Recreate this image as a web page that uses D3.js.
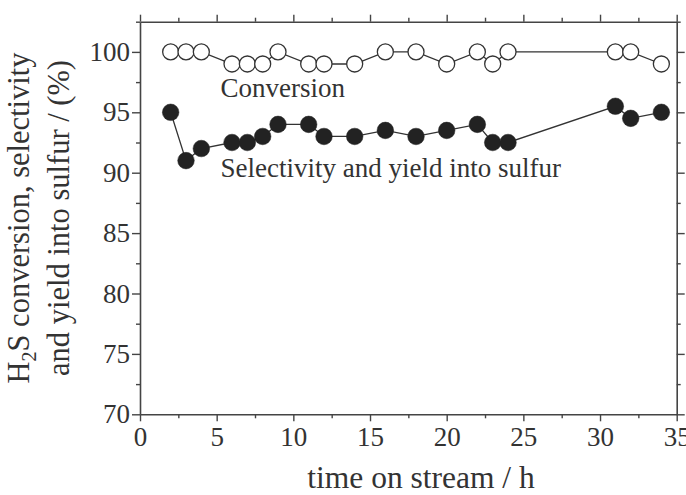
<!DOCTYPE html>
<html>
<head>
<meta charset="utf-8">
<script src="https://cdn.jsdelivr.net/npm/d3@7"></script>
<style>
  html, body { margin: 0; padding: 0; background: #fff; }
  svg { display: block; }
  text { font-family: "Liberation Serif", "Times New Roman", serif; fill: #333; }
</style>
</head>
<body>
<svg id="chart" width="686" height="495"></svg>
<script>
// ---- data ----
const hours = [2, 3, 4, 6, 7, 8, 9, 11, 12, 14, 16, 18, 20, 22, 23, 24, 31, 32, 34];
const conversion = [100, 100, 100, 99, 99, 99, 100, 99, 99, 99, 100, 100, 99, 100, 99, 100, 100, 100, 99];
const selectivity = [95, 91, 92, 92.5, 92.5, 93, 94, 94, 93, 93, 93.5, 93, 93.5, 94, 92.5, 92.5, 95.5, 94.5, 95];
const xTicks = [0, 5, 10, 15, 20, 25, 30, 35];
const yTicks = [70, 75, 80, 85, 90, 95, 100];
const xMinor = [2.5, 7.5, 12.5, 17.5, 22.5, 27.5, 32.5];
const yMinor = [72.5, 77.5, 82.5, 87.5, 92.5, 97.5, 102.5];
const labelConversion = "Conversion";
const labelSelectivity = "Selectivity and yield into sulfur";
const xTitle = "time on stream / h";

// ---- layout ----
const svg = d3.select("#chart");
const mLeft = 140, mRight = 676.7, mTop = 21.7, mBottom = 414.3;
const x = d3.scaleLinear().domain([0, 35]).range([mLeft, mRight]);
const y = d3.scaleLinear().domain([70, 102.5]).range([mBottom, mTop]);
const axisColor = "#444";
const fontSize = 27;

function styleAxis(g, labels) {
  g.attr("font-family", '"Liberation Serif", serif');
  g.select(".domain").attr("stroke", axisColor).attr("stroke-width", 1.6);
  g.selectAll(".tick line").attr("stroke", axisColor).attr("stroke-width", 1.4);
  g.selectAll(".tick text")
    .attr("font-size", fontSize)
    .attr("font-family", '"Liberation Serif", serif')
    .attr("fill", "#333");
  if (!labels) g.selectAll(".tick text").remove();
}

// major axes
const gB = svg.append("g").attr("transform", `translate(0,${mBottom})`)
  .call(d3.axisBottom(x).tickValues(xTicks).tickSize(7).tickPadding(6).tickSizeOuter(0).tickFormat(d3.format("d")));
styleAxis(gB, true);
gB.selectAll(".tick text").attr("dy", "0.71em");

const gL = svg.append("g").attr("transform", `translate(${mLeft},0)`)
  .call(d3.axisLeft(y).tickValues(yTicks).tickSize(8).tickPadding(2).tickSizeOuter(0).tickFormat(d3.format("d")));
styleAxis(gL, true);

const gT = svg.append("g").attr("transform", `translate(0,${mTop})`)
  .call(d3.axisTop(x).tickValues(xTicks).tickSize(7).tickSizeOuter(0));
styleAxis(gT, false);

const gR = svg.append("g").attr("transform", `translate(${mRight},0)`)
  .call(d3.axisRight(y).tickValues(yTicks).tickSize(8).tickSizeOuter(0));
styleAxis(gR, false);

// minor ticks
const mB = svg.append("g").attr("transform", `translate(0,${mBottom})`)
  .call(d3.axisBottom(x).tickValues(xMinor).tickSize(4).tickSizeOuter(0));
styleAxis(mB, false); mB.select(".domain").remove();
const mT = svg.append("g").attr("transform", `translate(0,${mTop})`)
  .call(d3.axisTop(x).tickValues(xMinor).tickSize(4).tickSizeOuter(0));
styleAxis(mT, false); mT.select(".domain").remove();
const mL = svg.append("g").attr("transform", `translate(${mLeft},0)`)
  .call(d3.axisLeft(y).tickValues(yMinor).tickSize(4).tickSizeOuter(0));
styleAxis(mL, false); mL.select(".domain").remove();
const mR = svg.append("g").attr("transform", `translate(${mRight},0)`)
  .call(d3.axisRight(y).tickValues(yMinor).tickSize(4).tickSizeOuter(0));
styleAxis(mR, false); mR.select(".domain").remove();

// ---- data series ----
const convData = hours.map((h, i) => ({ h, v: conversion[i] }));
const selData = hours.map((h, i) => ({ h, v: selectivity[i] }));
const line = d3.line().x(d => x(d.h)).y(d => y(d.v));

svg.append("path").datum(convData).attr("d", line)
  .attr("fill", "none").attr("stroke", "#333").attr("stroke-width", 1.3);
svg.append("path").datum(selData).attr("d", line)
  .attr("fill", "none").attr("stroke", "#333").attr("stroke-width", 1.3);

svg.append("g").selectAll("circle").data(convData).join("circle")
  .attr("cx", d => x(d.h)).attr("cy", d => y(d.v)).attr("r", 8)
  .attr("fill", "#fff").attr("stroke", "#333").attr("stroke-width", 1.3);
svg.append("g").selectAll("circle").data(selData).join("circle")
  .attr("cx", d => x(d.h)).attr("cy", d => y(d.v)).attr("r", 8.3)
  .attr("fill", "#222").attr("stroke", "#222").attr("stroke-width", 0.5);

// ---- in-plot labels ----
svg.append("text").attr("x", 220.5).attr("y", 96.7).attr("font-size", fontSize).text(labelConversion);
svg.append("text").attr("x", 220.5).attr("y", 176.7).attr("font-size", fontSize).text(labelSelectivity);

// ---- axis titles ----
svg.append("text").attr("x", 421).attr("y", 488).attr("text-anchor", "middle")
  .attr("font-size", 31.5).text(xTitle);

const yt = svg.append("g").attr("transform", `translate(0,${(mTop + mBottom) / 2}) rotate(-90)`);
const l1 = yt.append("text").attr("x", 0).attr("y", 28.5).attr("text-anchor", "middle").attr("font-size", 30.5);
l1.append("tspan").text("H");
l1.append("tspan").attr("font-size", 20).attr("dy", 7).text("2");
l1.append("tspan").attr("dy", -7).text("S conversion, selectivity");
yt.append("text").attr("x", 0).attr("y", 69).attr("text-anchor", "middle").attr("font-size", 30.5)
  .text("and yield into sulfur / (%)");
</script>
</body>
</html>
